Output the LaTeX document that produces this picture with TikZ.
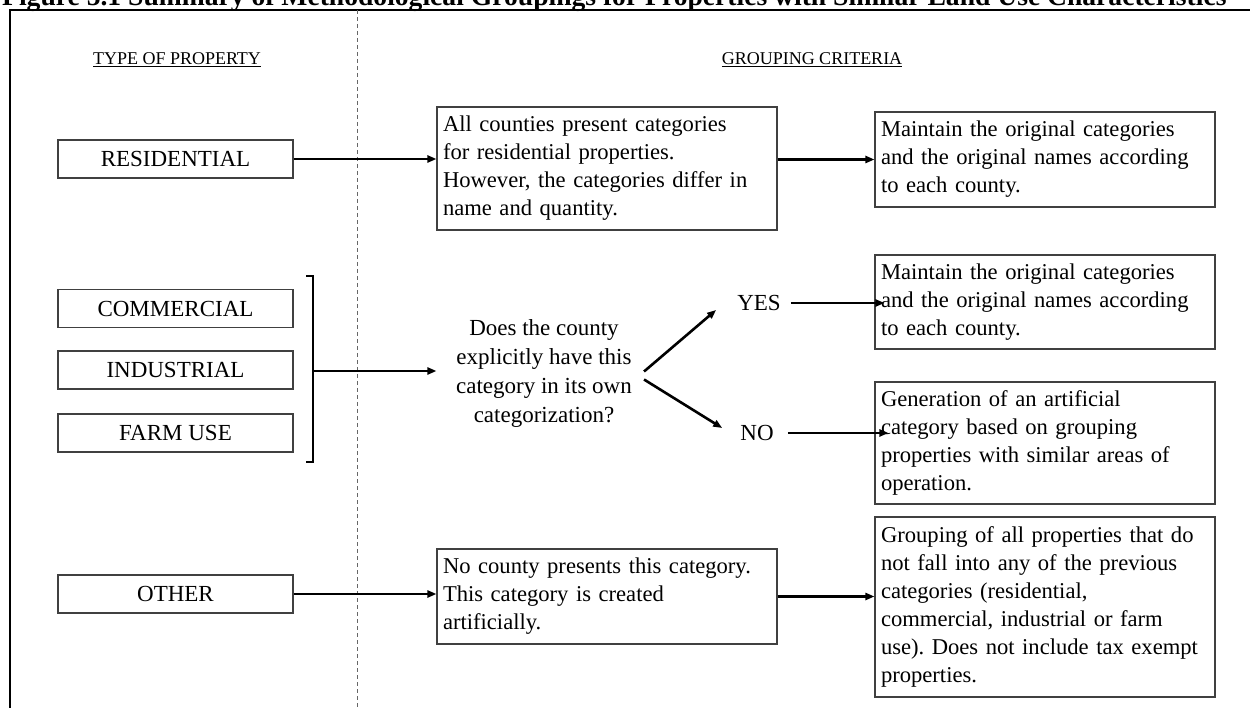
\documentclass[tikz,border=0pt]{standalone}
\usepackage{fontspec}
\setmainfont{Liberation Serif}
\usetikzlibrary{arrows.meta}

\begin{document}
\frenchspacing
\hyphenpenalty=10000
\begin{tikzpicture}[x=1pt,y=-1pt,>={Triangle[length=9pt,width=7pt]},
    typebox/.style={draw=black!75,line width=1.1pt,minimum width=235pt,minimum height=38pt,inner sep=0pt,font=\fontsize{23}{28}\selectfont},
    critbox/.style={draw=black!75,line width=1.1pt,text width=328pt,inner xsep=6pt,inner ysep=0pt,align=left,font=\fontsize{22.6}{28}\selectfont},
    header/.style={inner sep=0pt,font=\fontsize{18}{22}\selectfont},
    flow/.style={->,line width=2.6pt}]
      \useasboundingbox (0,0) rectangle (1250,708);
      \clip (0,0) rectangle (1250,708);
      \node[anchor=base west,inner sep=0pt,font=\bfseries\fontsize{27.6}{30}\selectfont] (title) at (2,6) {Figure 5.1 Summary of Methodological Groupings for Properties with Similar Land Use Characteristics};
      \draw[line width=2pt] (10,708) -- (10,10) -- (1250,10);
      \draw[black!60,line width=0.8pt,dash pattern=on 4pt off 3pt] (357,10) -- (357,708);
      \node[header] (typehead) at (177,60) {\underline{TYPE OF PROPERTY}};
      \node[header] (crithead) at (812,60) {\underline{GROUPING CRITERIA}};
      %
      \node[typebox] (res) at (175.5,159) {RESIDENTIAL};
      \node[typebox] (com) at (175.5,308.5) {COMMERCIAL};
      \node[typebox] (ind) at (175.5,370) {INDUSTRIAL};
      \node[typebox] (farm) at (175.5,433) {FARM USE};
      \node[typebox] (oth) at (175.5,594) {OTHER};
      %
      \node[critbox,minimum height=123pt] (resdesc) at (607,168.5) {All counties present categories\\for residential properties.\\However, the categories differ in\\name and quantity.};
      \node[critbox,minimum height=95pt] (resres) at (1045,159.5) {Maintain the original categories\\and the original names according\\to each county.};
      \draw[flow] (res.east) -- (res.east -| resdesc.west);
      \draw[flow] (resres.west -| resdesc.east) -- (resres.west);
      %
      \coordinate (brtop) at (313,276);
      \coordinate (brbot) at (313,462);
      \coordinate (brmid) at (313,371);
      \draw[line width=2.4pt] (brtop) ++(-7,0) -- (brtop) -- (brbot) -- ++(-7,0);
      \node[align=center,inner sep=0pt,font=\fontsize{23}{29}\selectfont] (q) at (544,373.5) {Does the county\\explicitly have this\\category in its own\\categorization?};
      \draw[flow] (brmid) -- (brmid -| resdesc.west);
      \node[inner sep=0pt,font=\fontsize{23}{28}\selectfont] (yes) at (759,303) {YES};
      \node[inner sep=0pt,font=\fontsize{23}{28}\selectfont] (no) at (757,433) {NO};
      \draw[flow] ([xshift=12pt,yshift=2pt]q.east) -- ([xshift=-21pt,yshift=-7pt]yes.west);
      \draw[flow] ([xshift=12pt,yshift=-6pt]q.east) -- ([xshift=-18pt,yshift=5pt]no.west);
      \node[critbox,minimum height=94pt] (yesres) at (1045,302) {Maintain the original categories\\and the original names according\\to each county.};
      \node[critbox,minimum height=122pt] (nores) at (1045,443) {Generation of an artificial\\category based on grouping\\properties with similar areas of\\operation.};
      \draw[flow] ([xshift=10pt]yes.east) -- ([xshift=10pt]yes.east -| yesres.west);
      \draw[flow] ([xshift=14pt]no.east) -- ([xshift=14pt]no.east -| nores.west);
      %
      \node[critbox,minimum height=95pt] (othdesc) at (607,596.5) {No county presents this category.\\This category is created\\artificially.};
      \node[critbox,minimum height=180pt] (othres) at (1045,607) {Grouping of all properties that do\\not fall into any of the previous\\categories (residential,\\commercial, industrial or farm\\use). Does not include tax exempt\\properties.};
      \draw[flow] (oth.east) -- (oth.east -| othdesc.west);
      \draw[flow] (othdesc.east) -- (othdesc.east -| othres.west);
    \end{tikzpicture}
\end{document}
